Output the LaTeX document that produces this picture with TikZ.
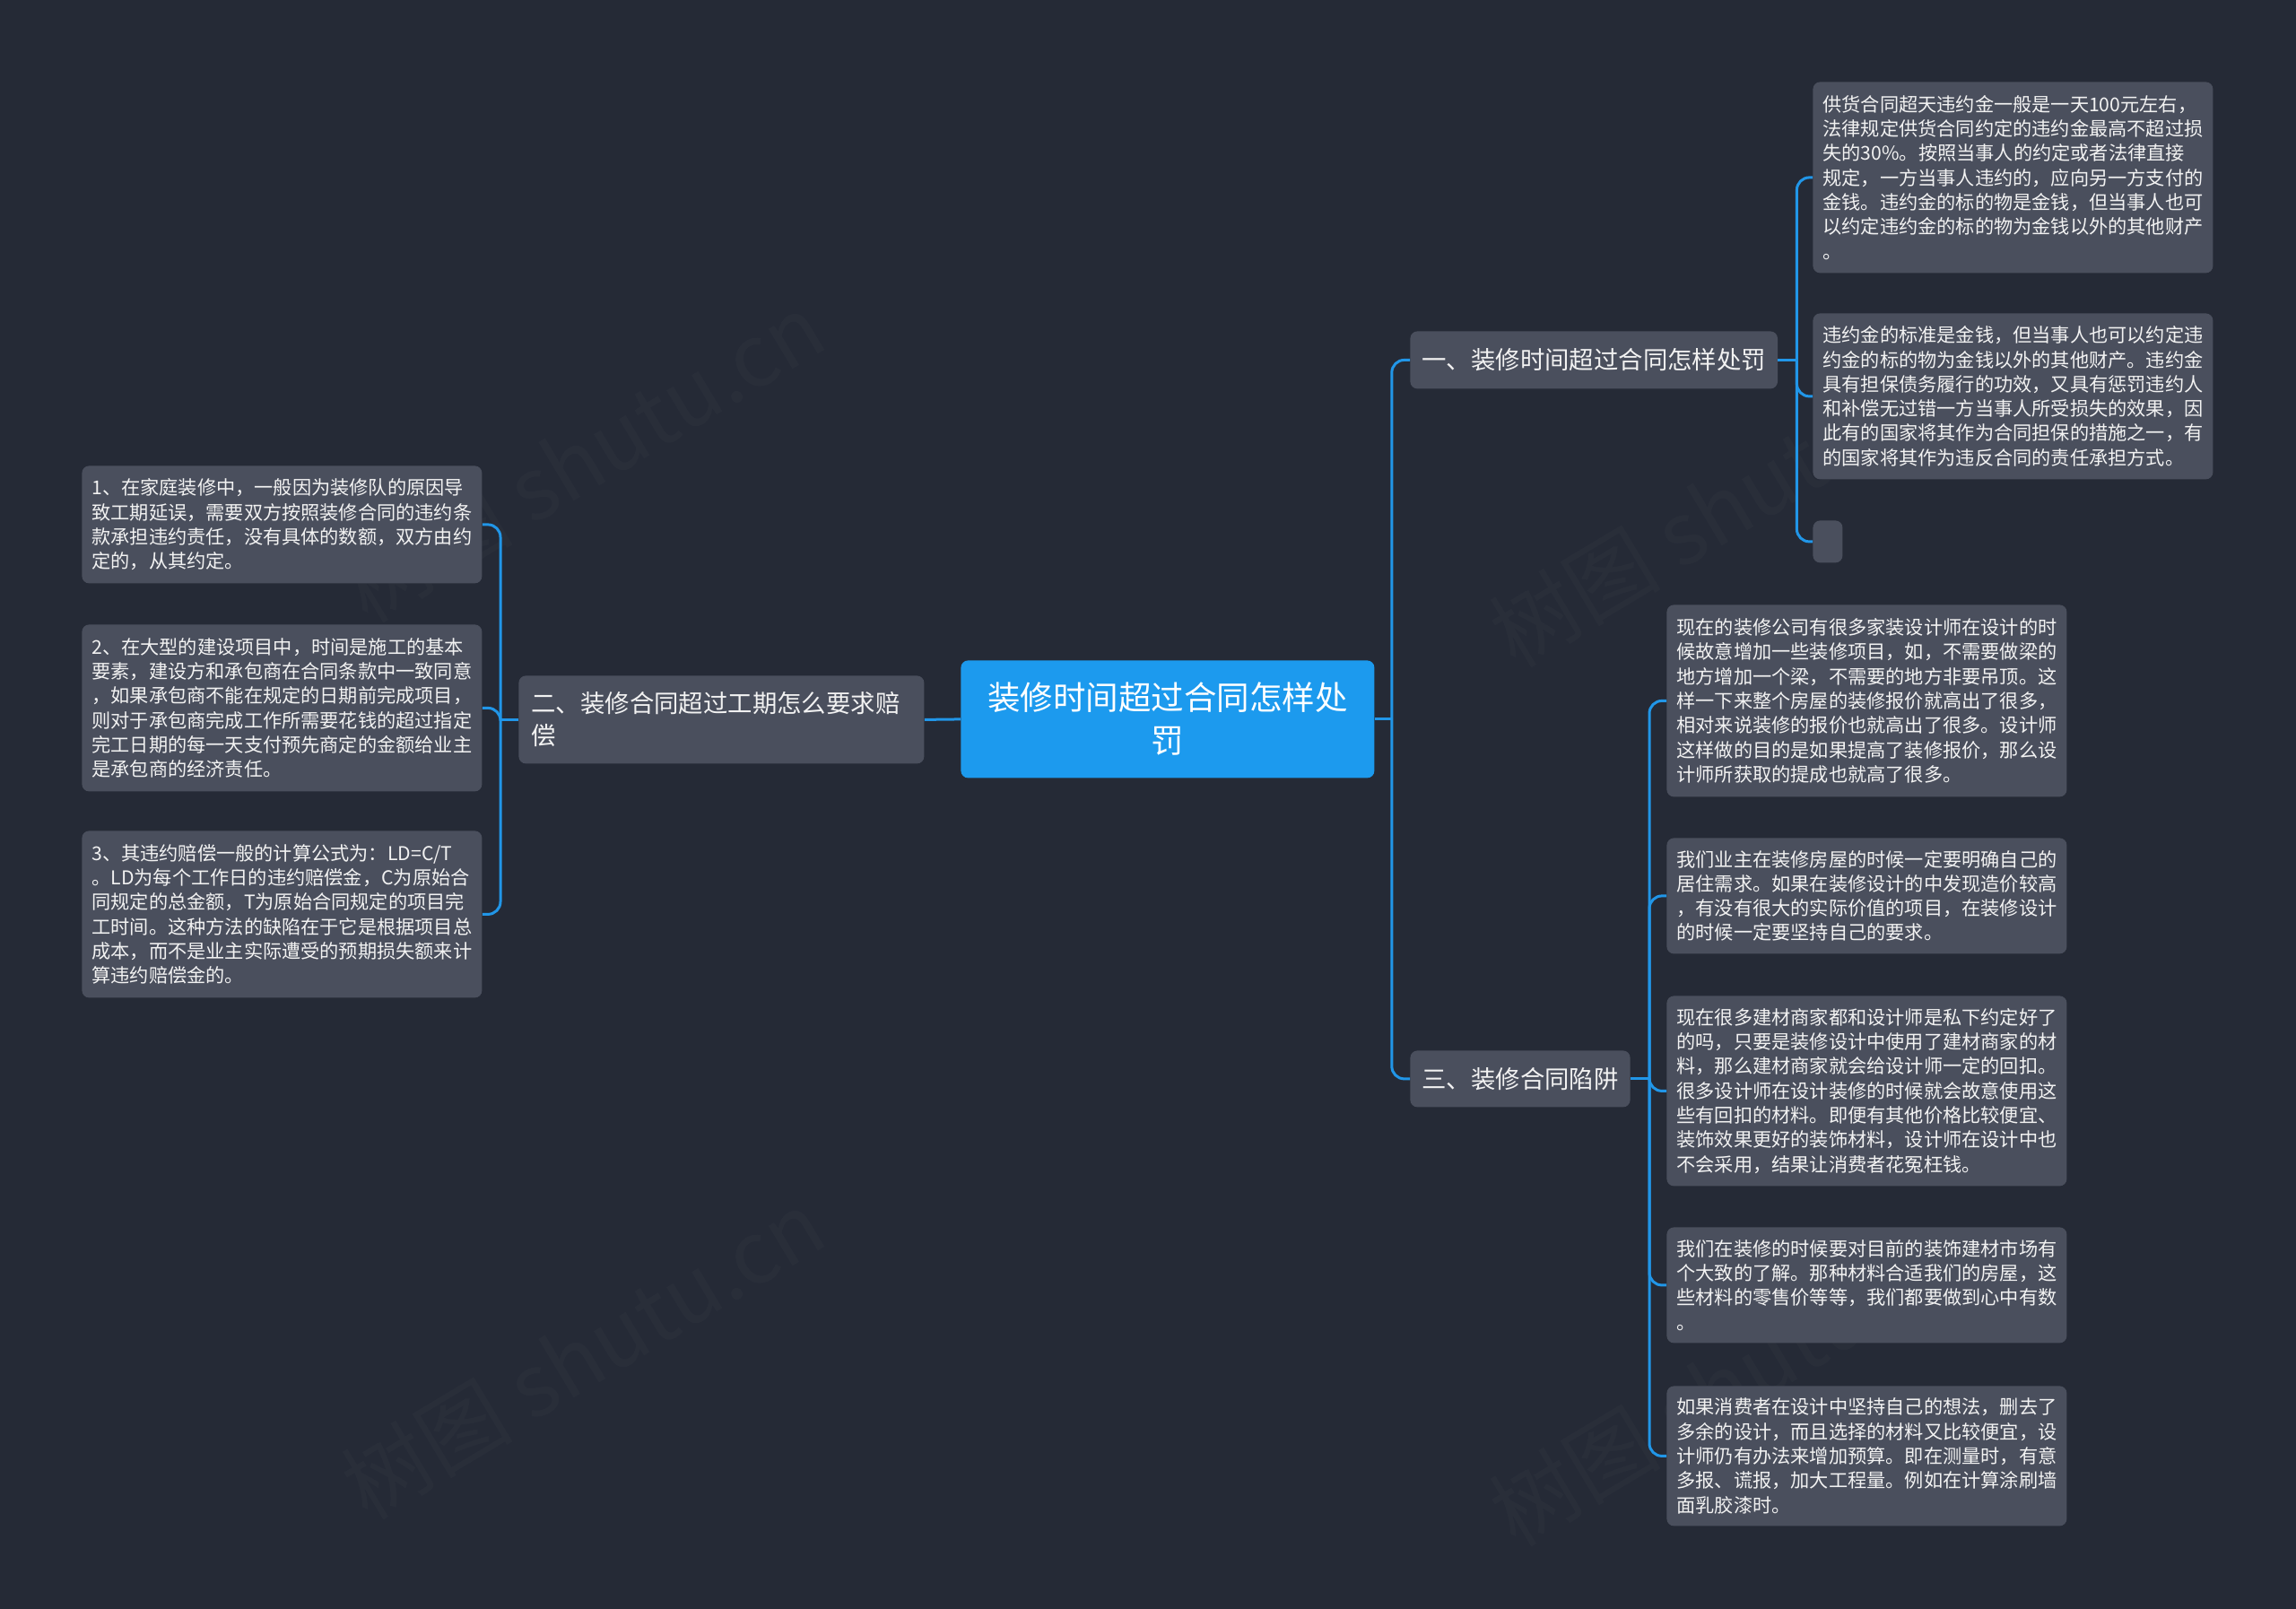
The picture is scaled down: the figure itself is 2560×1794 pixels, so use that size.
\documentclass[tikz,border=0pt]{standalone}
\usepackage{fontspec}
\setmainfont{Noto Sans CJK SC}
\usetikzlibrary{calc}
\definecolor{bgc}{HTML}{252A36}
\definecolor{nodegray}{HTML}{4A4F5D}
\definecolor{rootblue}{HTML}{1C9AEE}
\definecolor{linkblue}{HTML}{2196E8}
\definecolor{txt}{HTML}{F2F2F2}
\tikzset{
  box/.style={fill=nodegray, rounded corners=4pt, text=txt, anchor=north west, inner ysep=0pt},
  leaf/.style={box, align=left, text width=212pt, inner xsep=5.5pt, minimum height=#1,
    font=\fontsize{10.6pt}{13.65pt}\selectfont},
  branch/.style={box, inner xsep=6.5pt, font=\fontsize{13.7pt}{18pt}\selectfont},
  rootbox/.style={fill=rootblue, rounded corners=4pt, text=white, anchor=north west, align=center,
    minimum width=230.5pt, minimum height=65.5pt, text width=220pt, inner xsep=5pt, inner ysep=0pt,
    font=\fontsize{18.25pt}{24pt}\selectfont},
  link/.style={draw=linkblue, line width=1.5pt, rounded corners=7pt},
  wmark/.style={rotate=31, text=white, text opacity=0.02, font=\fontsize{48pt}{48pt}\selectfont}
}
\begin{document}
\begin{tikzpicture}[x=0.5pt,y=-0.5pt]
\useasboundingbox (0,0) rectangle (2560,1794);
\fill[bgc] (0,0) rectangle (2560,1794);
% watermarks
\node[wmark] (w1) at (650,510) {树图 shutu.cn};
\node[wmark] (w2) at (650,1510) {树图 shutu.cn};
\node[wmark] (w3) at (1930,560) {树图 shutu.cn};
\node[wmark] (w4) at (1930,1540) {树图 shutu.cn};
% root
\node[rootbox] (root) at (1071,736) {装修时间超过合同怎样处\\罚};
% branches
\node[branch, align=left, text width=212pt, inner xsep=7pt, minimum height=49pt] (b2) at (578,753) {二、装修合同超过工期怎么要求赔\\偿};
\node[branch, minimum width=204.5pt, minimum height=32pt] (b1) at (1572,369) {一、装修时间超过合同怎样处罚};
\node[branch, minimum width=122.5pt, minimum height=31.5pt] (b3) at (1572,1171) {三、装修合同陷阱};
% left leaves
\node[leaf=65.5pt] (L1) at (91,519) {1、在家庭装修中，一般因为装修队的原因导\\致工期延误，需要双方按照装修合同的违约条\\款承担违约责任，没有具体的数额，双方由约\\定的，从其约定。};
\node[leaf=93pt] (L2) at (91,696) {2、在大型的建设项目中，时间是施工的基本\\要素，建设方和承包商在合同条款中一致同意\\，如果承包商不能在规定的日期前完成项目，\\则对于承包商完成工作所需要花钱的超过指定\\完工日期的每一天支付预先商定的金额给业主\\是承包商的经济责任。};
\node[leaf=93pt] (L3) at (91,926) {3、其违约赔偿一般的计算公式为：LD=C/T\\。LD为每个工作日的违约赔偿金，C为原始合\\同规定的总金额，T为原始合同规定的项目完\\工时间。这种方法的缺陷在于它是根据项目总\\成本，而不是业主实际遭受的预期损失额来计\\算违约赔偿金的。};
% branch 1 leaves
\node[leaf=106.5pt] (R1a) at (2021,91) {供货合同超天违约金一般是一天100元左右，\\法律规定供货合同约定的违约金最高不超过损\\失的30\%。按照当事人的约定或者法律直接\\规定，一方当事人违约的，应向另一方支付的\\金钱。违约金的标的物是金钱，但当事人也可\\以约定违约金的标的物为金钱以外的其他财产\\。};
\node[leaf=92.5pt] (R1b) at (2021,349) {违约金的标准是金钱，但当事人也可以约定违\\约金的标的物为金钱以外的其他财产。违约金\\具有担保债务履行的功效，又具有惩罚违约人\\和补偿无过错一方当事人所受损失的效果，因\\此有的国家将其作为合同担保的措施之一，有\\的国家将其作为违反合同的责任承担方式。};
\node[box, minimum width=16.5pt, minimum height=23.5pt, inner xsep=0pt] (R1c) at (2021,580) {};
% branch 3 leaves
\node[leaf=107pt] (R3a) at (1858,674) {现在的装修公司有很多家装设计师在设计的时\\候故意增加一些装修项目，如，不需要做梁的\\地方增加一个梁，不需要的地方非要吊顶。这\\样一下来整个房屋的装修报价就高出了很多，\\相对来说装修的报价也就高出了很多。设计师\\这样做的目的是如果提高了装修报价，那么设\\计师所获取的提成也就高了很多。};
\node[leaf=64.5pt] (R3b) at (1858,934) {我们业主在装修房屋的时候一定要明确自己的\\居住需求。如果在装修设计的中发现造价较高\\，有没有很大的实际价值的项目，在装修设计\\的时候一定要坚持自己的要求。};
\node[leaf=106pt] (R3c) at (1858,1110) {现在很多建材商家都和设计师是私下约定好了\\的吗，只要是装修设计中使用了建材商家的材\\料，那么建材商家就会给设计师一定的回扣。\\很多设计师在设计装修的时候就会故意使用这\\些有回扣的材料。即便有其他价格比较便宜、\\装饰效果更好的装饰材料，设计师在设计中也\\不会采用，结果让消费者花冤枉钱。};
\node[leaf=64.5pt] (R3d) at (1858,1368) {我们在装修的时候要对目前的装饰建材市场有\\个大致的了解。那种材料合适我们的房屋，这\\些材料的零售价等等，我们都要做到心中有数\\。};
\node[leaf=78pt] (R3e) at (1858,1545) {如果消费者在设计中坚持自己的想法，删去了\\多余的设计，而且选择的材料又比较便宜，设\\计师仍有办法来增加预算。即在测量时，有意\\多报、谎报，加大工程量。例如在计算涂刷墙\\面乳胶漆时。};
% connectors
\coordinate (sR) at ($(root.east)+(19,0)$);
\draw[link] (root.east) -- (sR);
\draw[link] (sR) |- (b1.west);
\draw[link] (sR) |- (b3.west);
\draw[link] (root.west) -- (b2.east);
\coordinate (sL) at ($(b2.west)+(-20,0)$);
\draw[link] (b2.west) -- (sL);
\foreach \n in {L1,L2,L3} \draw[link] (sL) |- (\n.east);
\coordinate (s1) at ($(b1.east)+(21,0)$);
\draw[link] (b1.east) -- (s1);
\foreach \n in {R1a,R1b,R1c} \draw[link] (s1) |- (\n.west);
\coordinate (s3) at ($(b3.east)+(21,0)$);
\draw[link] (b3.east) -- (s3);
\foreach \n in {R3a,R3b,R3c,R3d,R3e} \draw[link] (s3) |- (\n.west);
\end{tikzpicture}
\end{document}
